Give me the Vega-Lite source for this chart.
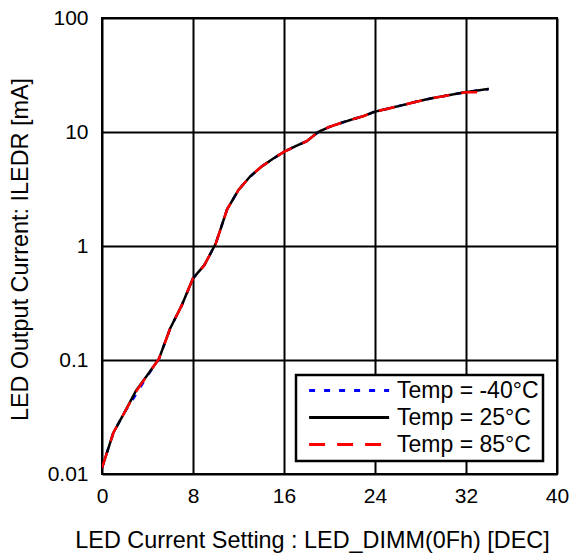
{
  "$schema": "https://vega.github.io/schema/vega-lite/v6.json",
  "width": 455,
  "height": 456,
  "autosize": {"type": "none"},
  "padding": {"left": 102, "top": 18, "right": 13, "bottom": 81},
  "background": "white",
  "config": {
    "font": "Liberation Sans",
    "view": {"stroke": "black", "strokeWidth": 2},
    "axis": {
      "gridColor": "black",
      "gridWidth": 2,
      "gridOpacity": 1,
      "domain": false,
      "ticks": false,
      "labelFlush": false,
      "labelFont": "Liberation Sans",
      "labelFontSize": 21,
      "labelColor": "black",
      "titleFont": "Liberation Sans",
      "titleFontSize": 23.4,
      "titleFontWeight": "normal",
      "titleColor": "black"
    }
  },
  "data": {
    "values": [
      {"x": 0, "temp": "Temp = -40°C", "y": 0.0113},
      {"x": 1, "temp": "Temp = -40°C", "y": 0.023},
      {"x": 2, "temp": "Temp = -40°C", "y": 0.035},
      {"x": 3, "temp": "Temp = -40°C", "y": 0.05},
      {"x": 4, "temp": "Temp = -40°C", "y": 0.073},
      {"x": 5, "temp": "Temp = -40°C", "y": 0.102},
      {"x": 6, "temp": "Temp = -40°C", "y": 0.19},
      {"x": 7, "temp": "Temp = -40°C", "y": 0.3},
      {"x": 8, "temp": "Temp = -40°C", "y": 0.52},
      {"x": 9, "temp": "Temp = -40°C", "y": 0.68},
      {"x": 10, "temp": "Temp = -40°C", "y": 1.05},
      {"x": 11, "temp": "Temp = -40°C", "y": 2.1},
      {"x": 12, "temp": "Temp = -40°C", "y": 3.1},
      {"x": 13, "temp": "Temp = -40°C", "y": 4.05},
      {"x": 14, "temp": "Temp = -40°C", "y": 4.95},
      {"x": 15, "temp": "Temp = -40°C", "y": 5.8},
      {"x": 16, "temp": "Temp = -40°C", "y": 6.7},
      {"x": 17, "temp": "Temp = -40°C", "y": 7.5},
      {"x": 18, "temp": "Temp = -40°C", "y": 8.3},
      {"x": 19, "temp": "Temp = -40°C", "y": 10.0},
      {"x": 20, "temp": "Temp = -40°C", "y": 11.1},
      {"x": 21, "temp": "Temp = -40°C", "y": 12.0},
      {"x": 22, "temp": "Temp = -40°C", "y": 12.9},
      {"x": 23, "temp": "Temp = -40°C", "y": 13.8},
      {"x": 24, "temp": "Temp = -40°C", "y": 15.1},
      {"x": 25, "temp": "Temp = -40°C", "y": 15.9},
      {"x": 26, "temp": "Temp = -40°C", "y": 16.8},
      {"x": 27, "temp": "Temp = -40°C", "y": 17.8},
      {"x": 28, "temp": "Temp = -40°C", "y": 18.8},
      {"x": 29, "temp": "Temp = -40°C", "y": 19.8},
      {"x": 30, "temp": "Temp = -40°C", "y": 20.6},
      {"x": 31, "temp": "Temp = -40°C", "y": 21.5},
      {"x": 32, "temp": "Temp = -40°C", "y": 22.4},
      {"x": 33, "temp": "Temp = -40°C", "y": 23.1},
      {"x": 34, "temp": "Temp = -40°C", "y": 23.8},
      {"x": 0, "temp": "Temp = 25°C", "y": 0.0113},
      {"x": 1, "temp": "Temp = 25°C", "y": 0.023},
      {"x": 2, "temp": "Temp = 25°C", "y": 0.035},
      {"x": 3, "temp": "Temp = 25°C", "y": 0.054},
      {"x": 4, "temp": "Temp = 25°C", "y": 0.074},
      {"x": 5, "temp": "Temp = 25°C", "y": 0.102},
      {"x": 6, "temp": "Temp = 25°C", "y": 0.19},
      {"x": 7, "temp": "Temp = 25°C", "y": 0.3},
      {"x": 8, "temp": "Temp = 25°C", "y": 0.52},
      {"x": 9, "temp": "Temp = 25°C", "y": 0.68},
      {"x": 10, "temp": "Temp = 25°C", "y": 1.05},
      {"x": 11, "temp": "Temp = 25°C", "y": 2.1},
      {"x": 12, "temp": "Temp = 25°C", "y": 3.1},
      {"x": 13, "temp": "Temp = 25°C", "y": 4.05},
      {"x": 14, "temp": "Temp = 25°C", "y": 4.95},
      {"x": 15, "temp": "Temp = 25°C", "y": 5.8},
      {"x": 16, "temp": "Temp = 25°C", "y": 6.7},
      {"x": 17, "temp": "Temp = 25°C", "y": 7.5},
      {"x": 18, "temp": "Temp = 25°C", "y": 8.3},
      {"x": 19, "temp": "Temp = 25°C", "y": 10.0},
      {"x": 20, "temp": "Temp = 25°C", "y": 11.1},
      {"x": 21, "temp": "Temp = 25°C", "y": 12.0},
      {"x": 22, "temp": "Temp = 25°C", "y": 12.9},
      {"x": 23, "temp": "Temp = 25°C", "y": 13.8},
      {"x": 24, "temp": "Temp = 25°C", "y": 15.1},
      {"x": 25, "temp": "Temp = 25°C", "y": 15.9},
      {"x": 26, "temp": "Temp = 25°C", "y": 16.8},
      {"x": 27, "temp": "Temp = 25°C", "y": 17.8},
      {"x": 28, "temp": "Temp = 25°C", "y": 18.8},
      {"x": 29, "temp": "Temp = 25°C", "y": 19.8},
      {"x": 30, "temp": "Temp = 25°C", "y": 20.6},
      {"x": 31, "temp": "Temp = 25°C", "y": 21.5},
      {"x": 32, "temp": "Temp = 25°C", "y": 22.4},
      {"x": 33, "temp": "Temp = 25°C", "y": 23.1},
      {"x": 34, "temp": "Temp = 25°C", "y": 23.9},
      {"x": 0, "temp": "Temp = 85°C", "y": 0.0113},
      {"x": 1, "temp": "Temp = 85°C", "y": 0.023},
      {"x": 2, "temp": "Temp = 85°C", "y": 0.035},
      {"x": 3, "temp": "Temp = 85°C", "y": 0.053},
      {"x": 4, "temp": "Temp = 85°C", "y": 0.074},
      {"x": 5, "temp": "Temp = 85°C", "y": 0.102},
      {"x": 6, "temp": "Temp = 85°C", "y": 0.19},
      {"x": 7, "temp": "Temp = 85°C", "y": 0.3},
      {"x": 8, "temp": "Temp = 85°C", "y": 0.52},
      {"x": 9, "temp": "Temp = 85°C", "y": 0.68},
      {"x": 10, "temp": "Temp = 85°C", "y": 1.05},
      {"x": 11, "temp": "Temp = 85°C", "y": 2.1},
      {"x": 12, "temp": "Temp = 85°C", "y": 3.1},
      {"x": 13, "temp": "Temp = 85°C", "y": 4.05},
      {"x": 14, "temp": "Temp = 85°C", "y": 4.95},
      {"x": 15, "temp": "Temp = 85°C", "y": 5.8},
      {"x": 16, "temp": "Temp = 85°C", "y": 6.7},
      {"x": 17, "temp": "Temp = 85°C", "y": 7.5},
      {"x": 18, "temp": "Temp = 85°C", "y": 8.3},
      {"x": 19, "temp": "Temp = 85°C", "y": 10.0},
      {"x": 20, "temp": "Temp = 85°C", "y": 11.1},
      {"x": 21, "temp": "Temp = 85°C", "y": 12.0},
      {"x": 22, "temp": "Temp = 85°C", "y": 12.9},
      {"x": 23, "temp": "Temp = 85°C", "y": 13.8},
      {"x": 24, "temp": "Temp = 85°C", "y": 15.1},
      {"x": 25, "temp": "Temp = 85°C", "y": 15.9},
      {"x": 26, "temp": "Temp = 85°C", "y": 16.8},
      {"x": 27, "temp": "Temp = 85°C", "y": 17.8},
      {"x": 28, "temp": "Temp = 85°C", "y": 18.8},
      {"x": 29, "temp": "Temp = 85°C", "y": 19.8},
      {"x": 30, "temp": "Temp = 85°C", "y": 20.6},
      {"x": 31, "temp": "Temp = 85°C", "y": 21.5},
      {"x": 32, "temp": "Temp = 85°C", "y": 22.3},
      {"x": 33, "temp": "Temp = 85°C", "y": 22.3},
      {"x": 34, "temp": "Temp = 85°C", "y": 22.3}
    ]
  },
  "mark": {"type": "line", "strokeWidth": 2.5, "clip": true},
  "encoding": {
    "x": {
      "field": "x",
      "type": "quantitative",
      "scale": {"domain": [0, 40], "nice": false, "zero": false},
      "axis": {
        "values": [0, 8, 16, 24, 32, 40],
        "labelPadding": 11,
        "title": "LED Current Setting : LED_DIMM(0Fh) [DEC]",
        "titleX": 210,
        "titleY": 73,
        "titleBaseline": "alphabetic",
        "titleAnchor": "middle",
        "titleAlign": "center"
      }
    },
    "y": {
      "field": "y",
      "type": "quantitative",
      "scale": {"type": "log", "domain": [0.01, 100], "nice": false},
      "axis": {
        "values": [0.01, 0.1, 1, 10, 100],
        "format": "~g",
        "labelPadding": 14,
        "title": "LED Output Current: ILEDR [mA]",
        "titleX": -75,
        "titleY": 231,
        "titleAngle": 270,
        "titleAlign": "center",
        "titleBaseline": "alphabetic"
      }
    },
    "color": {
      "field": "temp",
      "type": "nominal",
      "scale": {
        "domain": ["Temp = -40°C", "Temp = 25°C", "Temp = 85°C"],
        "range": ["#0000ff", "#000000", "#ff0000"]
      },
      "legend": {
        "title": null,
        "orient": "none",
        "legendX": 194,
        "legendY": 357,
        "symbolType": "M-0.3,0H9.7",
        "symbolSize": 256,
        "symbolStrokeWidth": 3,
        "labelOffset": 74,
        "labelFontSize": 23,
        "labelFont": "Liberation Sans",
        "labelColor": "black",
        "rowPadding": 3,
        "padding": 4,
        "strokeColor": "black",
        "fillColor": "white",
        "cornerRadius": 0,
        "encode": {
          "legend": {
            "update": {
              "stroke": {"value": "black"},
              "strokeWidth": {"value": 2.5},
              "fill": {"value": "white"}
            }
          }
        }
      }
    },
    "strokeDash": {
      "field": "temp",
      "type": "nominal",
      "scale": {
        "domain": ["Temp = -40°C", "Temp = 25°C", "Temp = 85°C"],
        "range": [[6, 9], [1, 0], [16, 12]]
      },
      "legend": null
    }
  }
}
